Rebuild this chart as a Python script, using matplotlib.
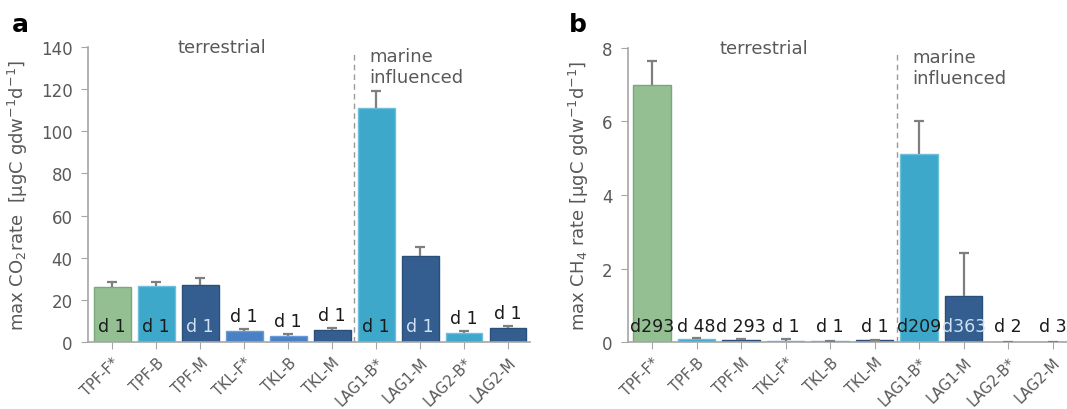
import matplotlib
matplotlib.use("Agg")
import matplotlib.pyplot as plt
import numpy as np

sites = ["TPF-F*", "TPF-B", "TPF-M", "TKL-F*", "TKL-B", "TKL-M",
         "LAG1-B*", "LAG1-M", "LAG2-B*", "LAG2-M"]

co2 = [26, 26.5, 27, 5, 3, 5.8, 111, 40.8, 4.5, 6.5]
co2_err = [2.5, 1.8, 3.2, 1.3, 0.7, 0.8, 8, 4.2, 0.5, 1.0]
co2_days = ["d 1"] * 10

ch4 = [7.0, 0.08, 0.05, 0.04, 0.02, 0.05, 5.12, 1.25, 0.01, 0.01]
ch4_err = [0.65, 0.02, 0.03, 0.04, 0.02, 0.01, 0.88, 1.18, 0.0, 0.0]
ch4_days = ["d293", "d 48", "d 293", "d 1", "d 1", "d 1", "d209", "d363", "d 2", "d 3"]

green = "#93bf93"
cyan = "#3da8ca"
dark = "#335e8f"
mid = "#4a80c4"
colors = [green, cyan, dark, mid, mid, dark, cyan, dark, cyan, dark]
edges = ["#7aa87a", "#6cc0dc", "#2a4f78", "#6a9ad6", "#6a9ad6", "#2a4f78",
         "#6cc0dc", "#2a4f78", "#6cc0dc", "#2a4f78"]

txt = "#595959"
spine = "#a6a6a6"

plt.rcParams["font.family"] = "DejaVu Sans"

fig = plt.figure(figsize=(10.67, 4.10), dpi=100)
ax1 = fig.add_axes([0.0825, 0.1634, 0.4142, 0.7196])
ax2 = fig.add_axes([0.5886, 0.1634, 0.4114, 0.7171])

x = np.arange(len(sites))


def draw(ax, vals, err, ymax, yticks, xlim):
    vals = np.array(vals)
    err = np.array(err)
    ax.bar(x, vals, width=0.84, color=colors, edgecolor=edges, linewidth=1, zorder=2)
    # upper-only error bars
    ax.vlines(x, vals, vals + err, color="#7f7f7f", linewidth=1.6, zorder=3)
    ax.hlines(vals + err, x - 0.11, x + 0.11, color="#7f7f7f", linewidth=1.6, zorder=3)
    ax.set_ylim(0, ymax)
    ax.set_xlim(*xlim)
    ax.set_yticks(yticks)
    ax.set_xticks(x)
    ax.set_xticklabels(sites, rotation=45, ha="right", rotation_mode="anchor")
    for s in ["top", "right"]:
        ax.spines[s].set_visible(False)
    for s in ["left", "bottom"]:
        ax.spines[s].set_color(spine)
        ax.spines[s].set_linewidth(1.2)
    ax.tick_params(axis="y", colors=spine, labelcolor=txt, labelsize=12, length=5, pad=6)
    ax.tick_params(axis="x", colors=spine, labelcolor=txt, labelsize=10.5, length=5, pad=4)
    ax.axvline(5.5, ymin=0, ymax=0.98, color="#999999", linestyle=(0, (4, 3)), linewidth=1)


draw(ax1, co2, co2_err, 140, range(0, 141, 20), (-0.55, 9.5))
draw(ax2, ch4, ch4_err, 8, range(0, 9, 2), (-0.54, 9.32))

ax1.set_ylabel("max CO$_2$rate  [µgC gdw$^{-1}$d$^{-1}$]", fontsize=13, color=txt, labelpad=8)
ax2.set_ylabel("max CH$_4$ rate [µgC gdw$^{-1}$d$^{-1}$]", fontsize=13, color=txt, labelpad=8)

# day labels, panel a
inside_a = [0, 1, 2, 6, 7]
for i in range(len(sites)):
    if i in inside_a:
        c = "#d0e2f2" if colors[i] == dark else "#1a1a1a"
        ax1.text(x[i], 7.5, co2_days[i], ha="center", va="center", fontsize=12.5, color=c)
    else:
        ax1.text(x[i], co2[i] + co2_err[i] + 2, co2_days[i], ha="center", va="bottom",
                 fontsize=12.5, color="#1a1a1a")

# day labels, panel b
for i in range(len(sites)):
    c = "#d0e2f2" if i == 7 else "#1a1a1a"
    ax2.text(x[i], 0.43, ch4_days[i], ha="center", va="center", fontsize=12.5, color=c)

for ax, top in [(ax1, 140), (ax2, 8)]:
    ax.text(2.5, top, "terrestrial", ha="center", va="center", fontsize=13, color=txt)
    ax.text(5.85, top, "marine\ninfluenced", ha="left", va="top", fontsize=13,
            color=txt, linespacing=1.25)

fig.text(0.011, 0.94, "a", fontsize=18, fontweight="bold", va="center")
fig.text(0.533, 0.94, "b", fontsize=18, fontweight="bold", va="center")

fig.savefig("out.png", dpi=100)
